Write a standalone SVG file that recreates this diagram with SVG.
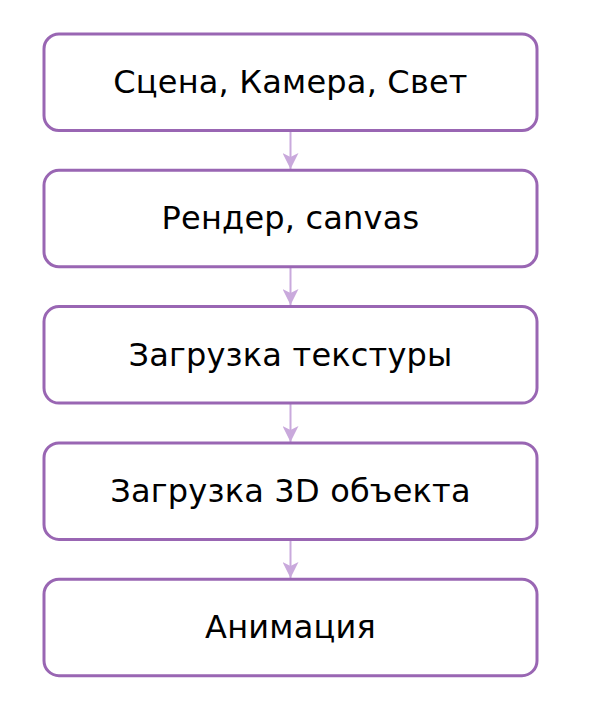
<svg xmlns="http://www.w3.org/2000/svg" width="598" height="707" viewBox="0 0 598 707">
<style>
.box{fill:#fff;stroke:#9966b3;stroke-width:3}
.lbl{font-family:"DejaVu Sans","Open Sans",sans-serif;font-size:32px;letter-spacing:0.2px;fill:#000;text-anchor:middle}
.conn{stroke:#c9a9dc;stroke-width:2;fill:none}
</style>
<defs>
<marker id="ah2" viewBox="0 0 18 16" refX="16" refY="8" markerWidth="18" markerHeight="16" markerUnits="userSpaceOnUse" orient="auto">
<path d="M0,0 L16,8 L0,16 L4,8 z" fill="#c9a9dc"/>
</marker>
</defs>
<rect width="598" height="707" fill="#fff"/>
<g id="connectors">
<line class="conn" x1="290.5" y1="131" x2="290.5" y2="169" marker-end="url(#ah2)"/>
<line class="conn" x1="290.5" y1="267" x2="290.5" y2="305" marker-end="url(#ah2)"/>
<line class="conn" x1="290.5" y1="404" x2="290.5" y2="442" marker-end="url(#ah2)"/>
<line class="conn" x1="290.5" y1="540" x2="290.5" y2="578" marker-end="url(#ah2)"/>
</g>
<g id="n1"><rect class="box" x="44" y="34" width="493" height="96.5" rx="15"/><text class="lbl" x="290.5" y="93">Сцена, Камера, Свет</text></g>
<g id="n2"><rect class="box" x="44" y="170.3" width="493" height="96.5" rx="15"/><text class="lbl" x="290.5" y="229.3">Рендер, canvas</text></g>
<g id="n3"><rect class="box" x="44" y="306.6" width="493" height="96.5" rx="15"/><text class="lbl" x="290.5" y="365.6">Загрузка текстуры</text></g>
<g id="n4"><rect class="box" x="44" y="442.9" width="493" height="96.5" rx="15"/><text class="lbl" x="290.5" y="501.9">Загрузка 3D объекта</text></g>
<g id="n5"><rect class="box" x="44" y="579.2" width="493" height="96.5" rx="15"/><text class="lbl" x="290.5" y="638.2">Анимация</text></g>
</svg>
